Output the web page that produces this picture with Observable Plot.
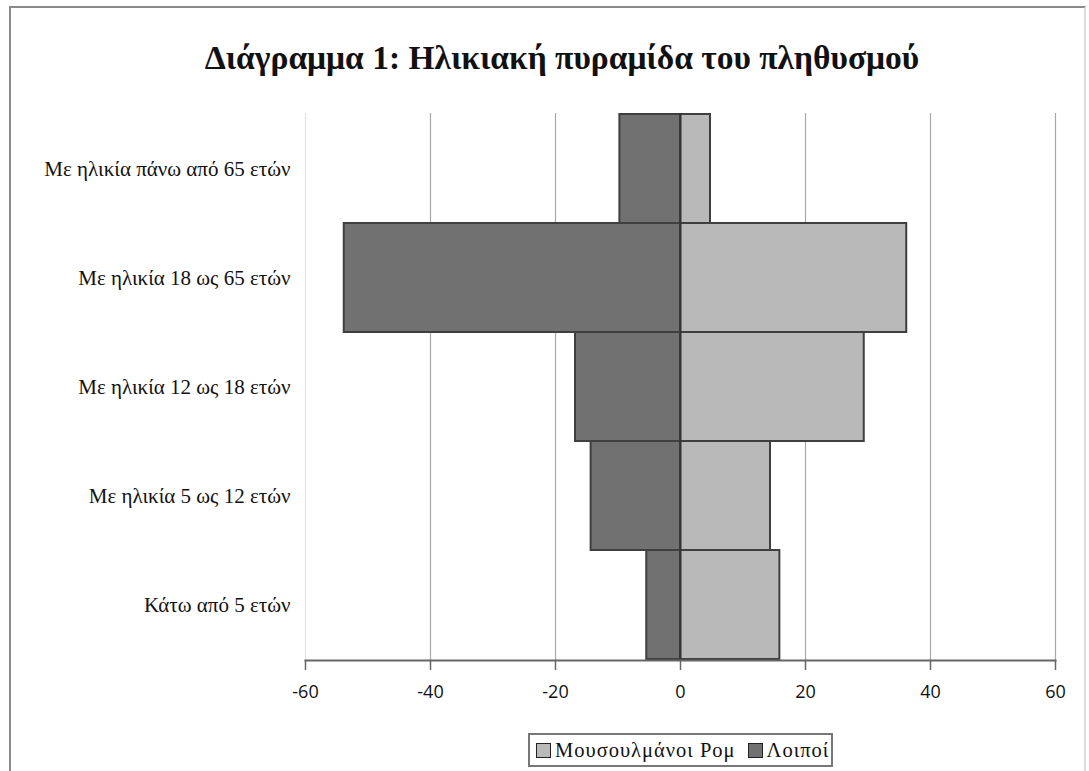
<!DOCTYPE html>
<html>
<head>
<meta charset="utf-8">
<script src="https://cdn.jsdelivr.net/npm/d3@7"></script>
<script src="https://cdn.jsdelivr.net/npm/@observablehq/plot@0.6"></script>
<style>
  html, body { margin: 0; padding: 0; background: #fff; }
  #wrap { position: relative; width: 1089px; height: 771px; overflow: hidden; background: #fff; }
  #frame { position: absolute; left: 9px; top: 6px; width: 1077px; height: 800px; border: 2px solid #8a8a8a; border-right-color: #dcdcdc; box-sizing: border-box; }
  #title { position: absolute; left: 0; width: 1124px; top: 39px; text-align: center; font-family: "Liberation Serif", "Times New Roman", serif; font-weight: bold; font-size: 33.5px; color: #111; white-space: nowrap; }
  #chart { position: absolute; left: 0; top: 0; }
  #legend { position: absolute; left: 528px; top: 733px; width: 305px; height: 34px; border: 2px solid #777; box-sizing: border-box; font-family: "Liberation Serif", "Times New Roman", serif; font-size: 20.5px; letter-spacing: 1px; color: #111; display: flex; align-items: center; padding-left: 6px; white-space: nowrap; }
  .sw { display: inline-block; flex: none; width: 13px; height: 13px; border: 1.5px solid #222; margin-right: 4px; }
  .item { display: flex; flex: none; align-items: center; margin-right: 12px; white-space: nowrap; }
</style>
</head>
<body>
<div id="wrap">
  <div id="frame"></div>
  <div id="chart"></div>
  <div id="title">Διάγραμμα 1: Ηλικιακή πυραμίδα του πληθυσμού</div>
  <div id="legend"></div>
</div>
<script>
const categories = [
  "Με ηλικία πάνω από 65 ετών",
  "Με ηλικία 18 ως 65 ετών",
  "Με ηλικία 12 ως 18 ετών",
  "Με ηλικία 5 ως 12 ετών",
  "Κάτω από 5 ετών"
];
const seriesNames = ["Μουσουλμάνοι Ρομ", "Λοιποί"];
const romaValues = [4.8, 36.2, 29.4, 14.4, 15.9];
const othersValues = [-9.7, -53.8, -16.8, -14.3, -5.4];
const xTicks = [-60, -40, -20, 0, 20, 40, 60];
const seriesColors = ["#b9b9b9", "#717171"];

const data = [];
categories.forEach((c, i) => {
  data.push({cat: c, series: seriesNames[0], value: romaValues[i]});
  data.push({cat: c, series: seriesNames[1], value: othersValues[i]});
});

const chart = Plot.plot({
  width: 1089,
  height: 720,
  marginLeft: 305,
  marginRight: 34,
  marginTop: 113,
  marginBottom: 60,
  style: {background: "transparent", overflow: "visible"},
  x: {domain: [-60, 60]},
  y: {domain: categories, padding: 0},
  color: {domain: seriesNames, range: seriesColors},
  marks: [
    Plot.ruleX(xTicks.filter(d => d !== 0 && d !== -60), {stroke: "#a8a8a8", strokeWidth: 1.2}),
    Plot.ruleX([-60], {stroke: "#e2e2e2", strokeWidth: 1.2}),
    Plot.barX(data, {x: "value", y: "cat", fill: "series", stroke: "#3f3f3f", strokeWidth: 2}),
    Plot.ruleX([0], {stroke: "#333", strokeWidth: 2}),
    Plot.frame({anchor: "bottom", stroke: "#666", strokeWidth: 2}),
    Plot.axisX({ticks: xTicks, tickSize: 10, tickPadding: 15, tickFormat: d => String(d), stroke: "#666", strokeWidth: 1.5, fontFamily: "'Open Sans', 'Liberation Sans', sans-serif", fontSize: 18, fill: "#111", label: null}),
    Plot.axisY({tickSize: 0, tickPadding: 15, fontFamily: "'Liberation Serif', 'Times New Roman', serif", fontSize: 21, fill: "#111", label: null})
  ]
});
document.getElementById("chart").appendChild(chart);

const legend = document.getElementById("legend");
seriesNames.forEach((name, i) => {
  const it = document.createElement("span");
  it.className = "item";
  const sw = document.createElement("span");
  sw.className = "sw";
  sw.style.background = seriesColors[i];
  it.appendChild(sw);
  it.appendChild(document.createTextNode(name));
  legend.appendChild(it);
});
</script>
</body>
</html>
